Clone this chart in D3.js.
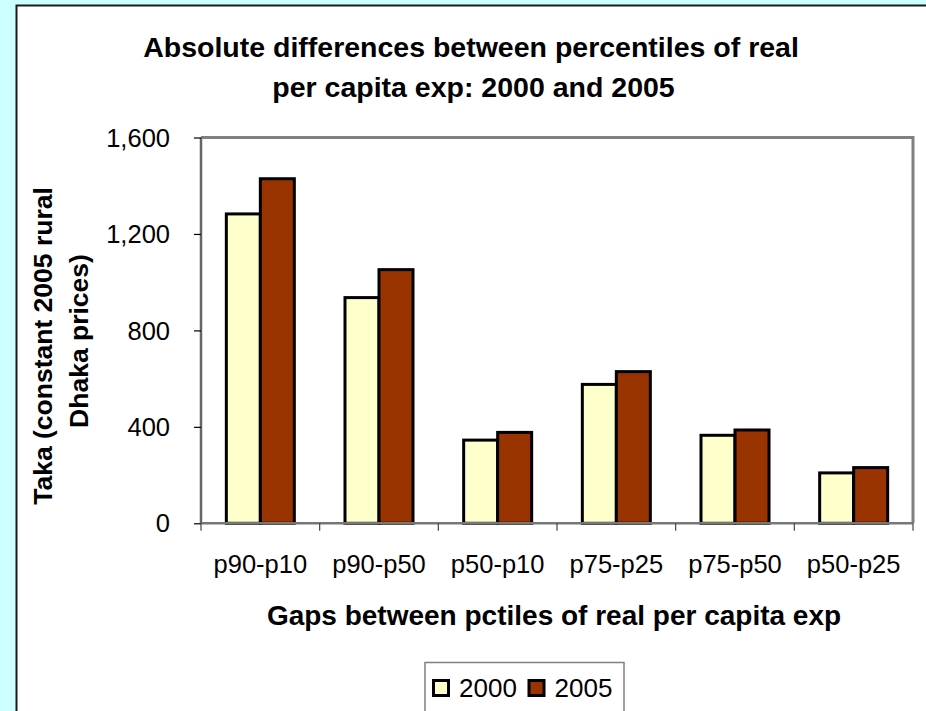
<!DOCTYPE html>
<html>
<head>
<meta charset="utf-8">
<script src="https://cdn.jsdelivr.net/npm/d3@7"></script>
<style>
  html, body { margin: 0; padding: 0; background: #CCFFFF; }
  svg { display: block; }
  text { font-family: Arial, "Liberation Sans", sans-serif; fill: #000; }
</style>
</head>
<body>
<svg id="chart" width="926" height="711"></svg>
<script>
// Gap categories (percentile differences) and the two survey years
const categories = ["p90-p10", "p90-p50", "p50-p10", "p75-p25", "p75-p50", "p50-p25"];
const seriesNames = ["2000", "2005"];
const values2000 = [1283, 936, 345, 576, 365, 209];
const values2005 = [1429, 1052, 377, 629, 387, 231];
const yTicks = [0, 400, 800, 1200, 1600];
const seriesColors = ["#FFFFCC", "#993300"];

const titleLines = ["Absolute differences between percentiles of real", "per capita exp: 2000 and 2005"];
const yTitleLines = ["Taka (constant 2005 rural", "Dhaka prices)"];
const xTitle = "Gaps between pctiles of real per capita exp";

const svg = d3.select("#chart");

// Chart area panel
svg.append("rect")
  .attr("x", 16.5).attr("y", 5.5)
  .attr("width", 940).attr("height", 740)
  .attr("fill", "#FFFFFF")
  .attr("stroke", "#1a1a1a").attr("stroke-width", 2);

// Plot area bounds
const plot = { left: 201, right: 913, top: 137.5, bottom: 523.3 };

const x = d3.scaleBand().domain(categories).range([plot.left, plot.right]).padding(0);
const xInner = d3.scaleBand().domain(seriesNames).range([0, x.bandwidth()])
  .paddingInner(0).paddingOuter(0.745);
const y = d3.scaleLinear().domain([0, 1600]).range([plot.bottom, plot.top]);

// Plot area border (top and right)
svg.append("path")
  .attr("d", `M${plot.left},${plot.top}H${plot.right}V${plot.bottom}`)
  .attr("fill", "none").attr("stroke", "#808080").attr("stroke-width", 3);

// Bars
const rows = categories.map((c, i) => ({ cat: c, vals: [values2000[i], values2005[i]] }));
const groups = svg.append("g").selectAll("g").data(rows).join("g")
  .attr("transform", d => `translate(${x(d.cat)},0)`);
groups.selectAll("rect")
  .data(d => d.vals.map((v, j) => ({ series: seriesNames[j], v, j })))
  .join("rect")
  .attr("x", d => xInner(d.series))
  .attr("y", d => y(d.v))
  .attr("width", xInner.bandwidth())
  .attr("height", d => y(0) - y(d.v))
  .attr("fill", d => seriesColors[d.j])
  .attr("stroke", "#000").attr("stroke-width", 3);

// Y axis
const yAxis = svg.append("g")
  .attr("transform", `translate(${plot.left},0)`)
  .call(d3.axisLeft(y).tickValues(yTicks).tickSize(7).tickPadding(24)
    .tickFormat(d3.format(",")));
yAxis.select(".domain").attr("stroke", "#666").attr("stroke-width", 2.5)
  .attr("d", `M0,${plot.top}V${plot.bottom}`);
yAxis.selectAll(".tick line").attr("stroke", "#000").attr("stroke-width", 1.2);
yAxis.selectAll(".tick text")
  .attr("font-size", "25.5px").attr("font-family", "Arial, 'Liberation Sans', sans-serif")
  .attr("fill", "#000").attr("dy", "0.34em");

// X axis (ticks at category boundaries)
const xAxis = svg.append("g")
  .attr("transform", `translate(0,${plot.bottom})`);
xAxis.append("path")
  .attr("d", `M${plot.left},0H${plot.right}`)
  .attr("stroke", "#777").attr("stroke-width", 2.5).attr("fill", "none");
const boundaries = categories.map(c => x(c)).concat([plot.right]);
xAxis.selectAll("line.tick").data(boundaries).join("line")
  .attr("class", "tick")
  .attr("x1", d => d).attr("x2", d => d)
  .attr("y1", 0).attr("y2", 7.5)
  .attr("stroke", "#444").attr("stroke-width", 1.2);
xAxis.selectAll("text").data(categories).join("text")
  .attr("x", d => x(d) + x.bandwidth() / 2)
  .attr("y", 50)
  .attr("text-anchor", "middle")
  .attr("font-size", "25.5px")
  .text(d => d);

// Chart title
svg.append("g").selectAll("text").data(titleLines).join("text")
  .attr("x", (d, i) => i === 0 ? 471 : 473.5)
  .attr("y", (d, i) => 57 + i * 39.5)
  .attr("text-anchor", "middle")
  .attr("font-size", "28.5px").attr("font-weight", "bold")
  .text(d => d);

// Y axis title
svg.append("g").selectAll("text").data(yTitleLines).join("text")
  .attr("transform", (d, i) => `translate(${i === 0 ? 52 : 88},${i === 0 ? 346 : 341}) rotate(-90)`)
  .attr("text-anchor", "middle")
  .attr("font-size", "26.5px").attr("font-weight", "bold")
  .text(d => d);

// X axis title
svg.append("text")
  .attr("x", 554).attr("y", 625)
  .attr("text-anchor", "middle")
  .attr("font-size", "28px").attr("font-weight", "bold")
  .text(xTitle);

// Legend
const legend = svg.append("g");
legend.append("rect")
  .attr("x", 425).attr("y", 662.5).attr("width", 199).attr("height", 70)
  .attr("fill", "#FFFFFF").attr("stroke", "#808080").attr("stroke-width", 1.5);
const legendX = [433.5, 529];
const items = legend.selectAll("g.item").data(seriesNames).join("g")
  .attr("class", "item")
  .attr("transform", (d, i) => `translate(${legendX[i]},0)`);
items.append("rect")
  .attr("x", 0).attr("y", 680.5).attr("width", 15).attr("height", 15)
  .attr("fill", (d, i) => seriesColors[i])
  .attr("stroke", "#000").attr("stroke-width", 3);
items.append("text")
  .attr("x", 25.5).attr("y", 697)
  .attr("font-size", "26px")
  .text(d => d);
</script>
</body>
</html>
